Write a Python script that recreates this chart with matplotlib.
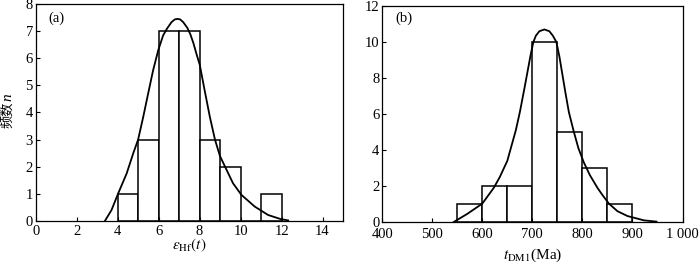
import matplotlib
matplotlib.use("Agg")
import matplotlib.pyplot as plt
from matplotlib.ticker import FuncFormatter

plt.rcParams['font.family'] = ['Liberation Serif', 'Noto Sans CJK SC']
plt.rcParams['mathtext.fontset'] = 'stix'

# panel (a): epsilon_Hf(t) histogram
hf_left = [4, 5, 6, 7, 8, 9, 10, 11]
hf_counts = [1, 3, 7, 7, 3, 2, 0, 1]
hf_curve_x = [3.38, 3.70, 4.03, 4.44, 4.76, 5.0, 5.25, 5.49, 5.73, 5.98, 6.22, 6.40,
              6.63, 6.79, 6.92, 7.05, 7.20, 7.40, 7.55, 7.70, 7.85, 8.01, 8.25, 8.50,
              8.75, 8.99, 9.23, 9.63, 10.04, 10.69, 11.34, 11.99, 12.32]
hf_curve_y = [0, 0.40, 1.02, 1.75, 2.49, 3.0, 3.84, 4.70, 5.55, 6.29, 6.84, 7.08,
              7.33, 7.43, 7.45, 7.43, 7.33, 7.12, 6.88, 6.55, 6.15, 5.75, 4.80, 3.84,
              3.0, 2.4, 2.02, 1.39, 0.96, 0.53, 0.22, 0.06, 0.02]

# panel (b): t_DM1 histogram
tdm_left = [550, 600, 650, 700, 750, 800, 850]
tdm_counts = [1, 2, 2, 10, 5, 3, 1]
tdm_curve_x = [543, 570, 600, 623, 635, 650, 658, 667, 675, 684, 690, 696, 702, 707,
               714, 724, 734, 741, 748, 754, 760, 766, 773, 783, 792, 803, 815, 830,
               840, 853, 870, 890, 923, 948]
tdm_curve_y = [0, 0.45, 1.02, 1.9, 2.5, 3.4, 4.2, 5.1, 6.1, 7.4, 8.3, 9.2, 10.0, 10.35,
               10.6, 10.7, 10.6, 10.35, 10.0, 9.2, 8.2, 7.2, 6.1, 5.0, 4.1, 3.3, 2.6, 1.9,
               1.5, 1.02, 0.6, 0.33, 0.09, 0.02]

fig = plt.figure(figsize=(7.0, 2.63), dpi=100)
ax1 = fig.add_axes([0.051, 0.160, 0.439, 0.825])
ax2 = fig.add_axes([0.546, 0.156, 0.429, 0.821])


def style(ax, xpad=3):
    for s in ax.spines.values():
        s.set_linewidth(0.9)
    ax.tick_params(direction='in', length=3, width=0.8, labelsize=10.5, pad=2,
                   top=False, right=False)
    ax.tick_params(axis='x', pad=xpad)


ax1.bar(hf_left, hf_counts, width=1, align='edge', facecolor='white',
        edgecolor='black', linewidth=1.1)
ax1.plot(hf_curve_x, hf_curve_y, color='black', lw=1.3)
ax1.set_xlim(0, 15)
ax1.set_ylim(0, 8)
ax1.set_xticks(range(0, 15, 2))
ax1.set_yticks(range(0, 9))
ax1.set_xlabel(r'$\varepsilon_{\rm Hf}(t)$', fontsize=11, labelpad=-1)
ax1.text(0.04, 0.935, '(a)', transform=ax1.transAxes, fontsize=10.5, va='center')
style(ax1)

# y label: Chinese part and italic n drawn separately
fig.text(0.0114, 0.563, '频数', rotation=90, fontsize=9.5, family=['Noto Sans CJK SC'],
         ha='center', va='center')
fig.text(0.0114, 0.630, 'n', rotation=90, fontsize=11, style='italic',
         family=['Liberation Serif'], ha='center', va='center')

ax2.bar(tdm_left, tdm_counts, width=50, align='edge', facecolor='white',
        edgecolor='black', linewidth=1.1)
ax2.plot(tdm_curve_x, tdm_curve_y, color='black', lw=1.3)
ax2.set_xlim(400, 1000)
ax2.set_ylim(0, 12)
ax2.set_xticks(range(400, 1001, 100))
ax2.set_yticks(range(0, 13, 2))
ax2.xaxis.set_major_formatter(FuncFormatter(lambda v, p: '1 000' if v == 1000 else f'{v:.0f}'))
ax2.set_xlabel(r'$t_{\rm DM1}$(Ma)', fontsize=11, labelpad=4)
ax2.text(0.043, 0.944, '(b)', transform=ax2.transAxes, fontsize=10.5, va='center')
style(ax2, xpad=4.5)

fig.savefig('out.png', dpi=100)
